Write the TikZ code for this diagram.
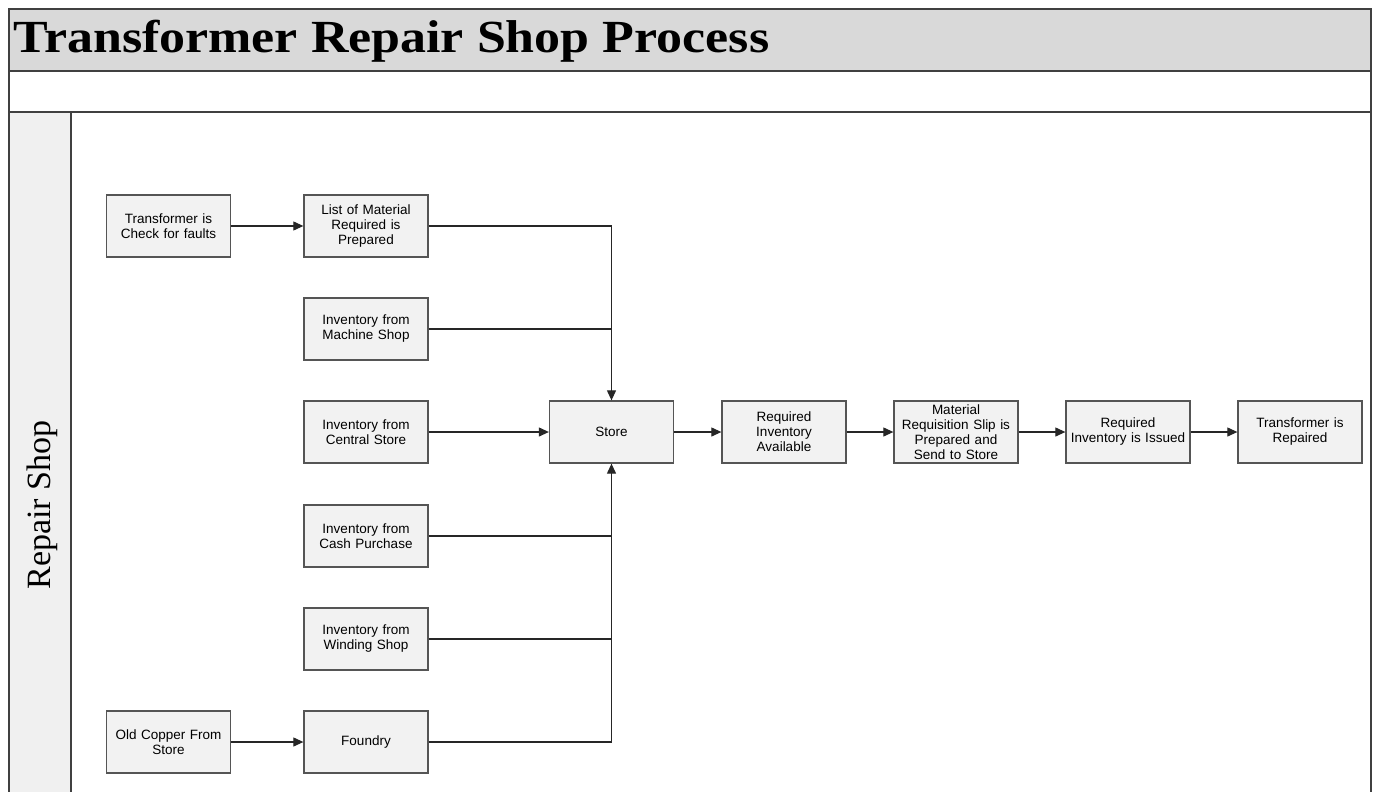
\documentclass[tikz,border=0pt]{standalone}
\usepackage{fontspec}
\setmainfont{Liberation Serif}
\newfontfamily\boxfont{Liberation Sans}
\usetikzlibrary{arrows.meta}
\definecolor{titlegray}{HTML}{D9D9D9}
\definecolor{lanegray}{HTML}{F0F0F0}
\definecolor{boxfill}{HTML}{F2F2F2}
\definecolor{boxline}{HTML}{555555}
\definecolor{frameline}{HTML}{404040}
\tikzset{
  procbox/.style={draw=boxline, line width=1.3pt, fill=boxfill, minimum width=124pt, minimum height=62pt,
    inner sep=2pt, align=center, font=\boxfont\fontsize{13.5}{15}\selectfont, text width=120pt},
  flow/.style={draw=black!85, line width=1.1pt, -{Triangle[length=10pt,width=9pt]}},
  flowplain/.style={draw=black!85, line width=1.1pt},
  frame/.style={draw=frameline, line width=1.6pt}
}
\begin{document}
\begin{tikzpicture}[x=1pt,y=-1pt]
\useasboundingbox (0,0) rectangle (1377,792);
\fill[white] (0,0) rectangle (1377,792);
% title band
\fill[titlegray] (9,9) rectangle (1371,71);
\fill[lanegray] (9,112) rectangle (71,792);
\draw[frame] (9,792) -- (9,9) -- (1371,9) -- (1371,792);
\draw[frame] (9,71) -- (1371,71);
\draw[frame] (9,112) -- (1371,112);
\draw[frame] (71,112) -- (71,792);
\node[anchor=west, inner sep=0pt, xscale=1.13] (title) at (13,41) {\fontsize{46}{50}\selectfont\bfseries Transformer Repair Shop Process};
\node[rotate=90, inner sep=0pt] (lane) at (42,505) {\fontsize{34}{40}\selectfont Repair Shop};
% boxes
\node[procbox] (check) at (168.5,226) {Transformer is\\Check for faults};
\node[procbox] (list) at (366,226) {List of Material\\Required is\\Prepared};
\node[procbox] (machine) at (366,329) {Inventory from\\Machine Shop};
\node[procbox] (central) at (366,432) {Inventory from\\Central Store};
\node[procbox] (cash) at (366,536) {Inventory from\\Cash Purchase};
\node[procbox] (winding) at (366,639) {Inventory from\\Winding Shop};
\node[procbox] (copper) at (168.5,742) {Old Copper From\\Store};
\node[procbox] (foundry) at (366,742) {Foundry};
\node[procbox] (store) at (611.5,432) {Store};
\node[procbox] (avail) at (784,432) {Required\\Inventory\\Available};
\node[procbox] (slip) at (956,432) {Material\\Requisition Slip is\\Prepared and\\Send to Store};
\node[procbox] (issued) at (1128,432) {Required\\Inventory is Issued};
\node[procbox] (repaired) at (1300,432) {Transformer is\\Repaired};
% connectors
\draw[flow] (check) -- (list);
\draw[flow] (list.east) -| (store.north);
\draw[flowplain] (machine.east) -- (machine.east -| store.north);
\draw[flow] (central) -- (store);
\draw[flowplain] (cash.east) -- (cash.east -| store.south);
\draw[flowplain] (winding.east) -- (winding.east -| store.south);
\draw[flow] (foundry.east) -| (store.south);
\draw[flow] (copper) -- (foundry);
\draw[flow] (store) -- (avail);
\draw[flow] (avail) -- (slip);
\draw[flow] (slip) -- (issued);
\draw[flow] (issued) -- (repaired);
\end{tikzpicture}
\end{document}
